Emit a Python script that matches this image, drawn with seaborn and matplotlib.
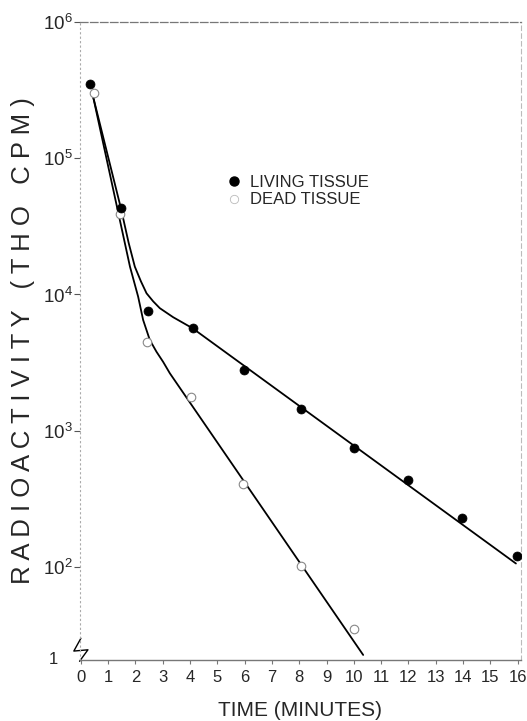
import numpy as np
import pandas as pd
import matplotlib
matplotlib.use("Agg")
import matplotlib.pyplot as plt
from matplotlib.lines import Line2D
import seaborn as sns

# ---- data ----
living_t = [0.33, 1.47, 2.47, 4.09, 5.97, 8.08, 10.01, 11.99, 13.97, 15.96]
living_cpm = [3.5e5, 4.3e4, 7.5e3, 5.65e3, 2.8e3, 1.44e3, 750, 435, 228, 120]

dead_t = [0.49, 1.44, 2.41, 4.03, 5.95, 8.08, 10.0]
dead_cpm = [3.0e5, 3.9e4, 4.5e3, 1.78e3, 405, 102, 35]

# fitted curves
living_curve_t = [0.45, 1.465, 1.75, 1.978, 2.2, 2.407, 2.65, 2.894, 3.381, 4.092, 15.934]
living_curve_cpm = [2.83e5, 4.32e4, 2.4e4, 1.6e4, 1.25e4, 1.02e4, 8.9e3, 7.93e3, 6.81e3, 5.65e3, 106]
dead_curve_t = [0.45, 1.429, 1.8, 2.099, 2.282, 2.527, 2.77, 3.015, 3.26, 10.34]
dead_curve_cpm = [2.83e5, 3.52e4, 1.6e4, 9.64e3, 6.5e3, 4.63e3, 3.8e3, 3.2e3, 2.64e3, 22.6]

x_ticks = list(range(0, 17))
y_ticks = [1e2, 1e3, 1e4, 1e5, 1e6]
y_tick_labels = [r"$\mathregular{10^{2}}$", r"$\mathregular{10^{3}}$",
                 r"$\mathregular{10^{4}}$", r"$\mathregular{10^{5}}$",
                 r"$\mathregular{10^{6}}$"]

sns.set_theme(style="white")
plt.rcParams["font.family"] = ["Liberation Sans", "DejaVu Sans"]
plt.rcParams["mathtext.fontset"] = "custom"
plt.rcParams["mathtext.rm"] = "Liberation Sans"
plt.rcParams["mathtext.it"] = "Liberation Sans:italic"
plt.rcParams["mathtext.bf"] = "Liberation Sans:bold"

fig = plt.figure(figsize=(5.27, 7.21), dpi=100)
ax = fig.add_axes([80 / 527, 1 - 660 / 721, 441 / 527, 638 / 721])

lc = pd.DataFrame({"t": living_curve_t, "cpm": living_curve_cpm})
dc = pd.DataFrame({"t": dead_curve_t, "cpm": dead_curve_cpm})
sns.lineplot(data=lc, x="t", y="cpm", ax=ax, color="black", lw=1.3,
             sort=False, estimator=None, legend=False)
sns.lineplot(data=dc, x="t", y="cpm", ax=ax, color="black", lw=1.3,
             sort=False, estimator=None, legend=False)

ld = pd.DataFrame({"t": living_t, "cpm": living_cpm})
dd = pd.DataFrame({"t": dead_t, "cpm": dead_cpm})
sns.scatterplot(data=dd, x="t", y="cpm", ax=ax, s=38, marker="o",
                facecolor="white", edgecolor="#888888", linewidth=0.8, zorder=3)
sns.scatterplot(data=ld, x="t", y="cpm", ax=ax, s=42, marker="o",
                color="black", edgecolor="black", linewidth=0.5, zorder=4)

ax.set_yscale("log")
ybot = 10 ** 1.317
ax.set_ylim(ybot, 1e6)
ax.set_xlim(-0.03, 16.12)

ax.set_xticks(x_ticks)
ax.set_xticklabels([str(v) for v in x_ticks], fontsize=12)
ax.set_yticks(y_ticks)
ax.set_yticklabels(y_tick_labels, fontsize=13.5)
ax.yaxis.set_minor_locator(matplotlib.ticker.NullLocator())
ax.tick_params(axis="x", direction="out", length=3, width=0.8,
               color="#777777", pad=4, bottom=True)
ax.tick_params(axis="y", direction="out", length=4, width=0.8,
               color="#555555", pad=1, left=True)

ax.text(-0.05, 0.0, "1", transform=ax.transAxes, ha="right", va="center",
        fontsize=12)

for side, sp in ax.spines.items():
    sp.set_visible(True)
ax.spines["left"].set_linestyle((0, (1, 3)))
ax.spines["left"].set_color("#aaaaaa")
ax.spines["left"].set_linewidth(0.8)
ax.spines["top"].set_linestyle((0, (6, 2)))
ax.spines["top"].set_color("#777777")
ax.spines["top"].set_linewidth(0.9)
ax.spines["right"].set_linestyle((0, (4, 3)))
ax.spines["right"].set_color("#bbbbbb")
ax.spines["right"].set_linewidth(0.8)
ax.spines["bottom"].set_color("#777777")
ax.spines["bottom"].set_linewidth(1.0)

# axis-break squiggle
ax.plot([0.002, -0.014, 0.018, -0.001], [0.034, 0.014, 0.016, -0.002],
        transform=ax.transAxes, color="black", lw=1.0, clip_on=False)

ax.set_xlabel("TIME (MINUTES)", fontsize=15, labelpad=12)

ylab = " ".join("RADIOACTIVITY") + "   " + " ".join("(THO") + "   " + " ".join("CPM)")
ax.set_ylabel(ylab, fontsize=18.5, labelpad=6)

handles = [
    Line2D([], [], marker="o", ls="", color="black", markersize=6.5),
    Line2D([], [], marker="o", ls="", markerfacecolor="white",
           markeredgecolor="#bbbbbb", markersize=6, markeredgewidth=0.6),
]
ax.legend(handles, ["LIVING TISSUE", "DEAD TISSUE"], loc="upper left",
          bbox_to_anchor=((226 - 80) / 441, (660 - 175) / 638), frameon=False,
          fontsize=12, handletextpad=0.45, labelspacing=0.15, handlelength=1.0,
          borderpad=0, borderaxespad=0)

fig.savefig("out.png", dpi=100)
